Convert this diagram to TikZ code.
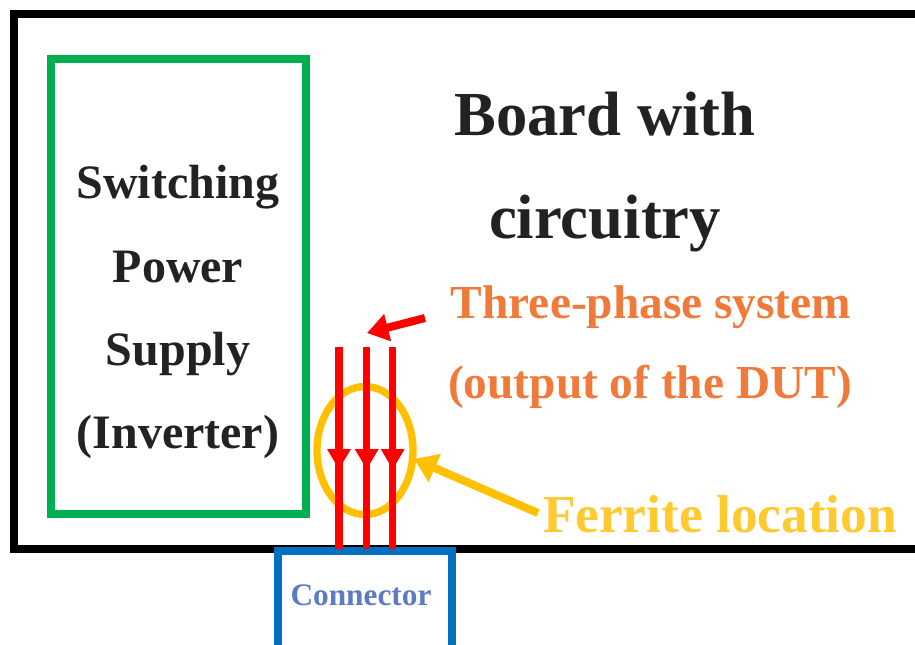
\documentclass[tikz,border=0pt]{standalone}
\usepackage{fontspec}
\setmainfont{Liberation Serif}
\usetikzlibrary{arrows.meta,shapes.geometric}
\definecolor{boxgreen}{HTML}{00B050}
\definecolor{boxblue}{HTML}{0070C0}
\definecolor{linered}{HTML}{FF0000}
\definecolor{ferrite}{HTML}{FFC000}
\definecolor{ferritetext}{HTML}{FFCA30}
\definecolor{orangetext}{HTML}{F07A3A}
\definecolor{conntext}{HTML}{5B7BC4}
\definecolor{darktext}{HTML}{222222}
\begin{document}
\begin{tikzpicture}[x=0.75pt,y=-0.75pt,
  lbl/.style={anchor=base, inner sep=0pt},
  phase/.style={draw=linered, line width=5.5pt}]
\useasboundingbox (0,0) rectangle (915,644);
\clip (0,0) rectangle (915,644);
\fill[white] (0,0) rectangle (915,644);
% board
\draw[line width=6pt, black] (13.5,14) rectangle (960,549);
% power supply box
\draw[line width=6pt, boxgreen] (51,59) rectangle (306,514);
% connector
\draw[line width=6pt, boxblue] (278,551) rectangle (452,700);
% labels
\node[lbl, text=darktext, font=\fontsize{36pt}{40pt}\selectfont\bfseries] (sw) at (178,198) {Switching};
\node[lbl, text=darktext, font=\fontsize{36pt}{40pt}\selectfont\bfseries] (pw) at (178,282) {Power};
\node[lbl, text=darktext, font=\fontsize{36pt}{40pt}\selectfont\bfseries] (sp) at (178,365) {Supply};
\node[lbl, text=darktext, font=\fontsize{36pt}{40pt}\selectfont\bfseries] (inv) at (178,448) {(Inverter)};
\node[lbl, text=darktext, font=\fontsize{47pt}{50pt}\selectfont\bfseries] (bw) at (605,135) {Board with};
\node[lbl, text=darktext, font=\fontsize{47pt}{50pt}\selectfont\bfseries] (ci) at (605,238) {circuitry};
\node[lbl, text=orangetext, font=\fontsize{35.5pt}{40pt}\selectfont\bfseries] (tp) at (651,318) {Three-phase system};
\node[lbl, text=orangetext, font=\fontsize{35.5pt}{40pt}\selectfont\bfseries] (out) at (650,398) {(output of the DUT)};
\node[lbl, text=ferritetext, font=\fontsize{40pt}{44pt}\selectfont\bfseries] (fl) at (720,532) {Ferrite location};
\node[lbl, text=conntext, font=\fontsize{23.5pt}{26pt}\selectfont\bfseries] (cn) at (361,605) {Connector};
% ferrite ellipse
\node[draw=ferrite, line width=5.5pt, ellipse, minimum width=72pt, minimum height=96pt, inner sep=0pt, outer sep=0pt] (fe) at (365,450.5) {};
% three phase lines
\foreach \x/\n in {339/a,366.7/b,392.7/c}{
  \coordinate (top\n) at (\x,347);
  \coordinate (bot\n) at (\x,549);
  \draw[phase] (top\n) -- (bot\n);
  \fill[linered] (\x-12,449) -- (\x+12,449) -- (\x,469) -- cycle;
}
% callout arrows
\coordinate (rs) at (425,318);
\coordinate (re) at (367,333);
\draw[linered, line width=6pt, -{Triangle[length=16pt,width=20pt]}] (rs) -- (re);
\coordinate (ys) at (538,513);
\coordinate (ye) at (414,459);
\draw[ferrite, line width=6pt, -{Triangle[length=17pt,width=22pt]}] (ys) -- (ye);
\end{tikzpicture}
\end{document}
